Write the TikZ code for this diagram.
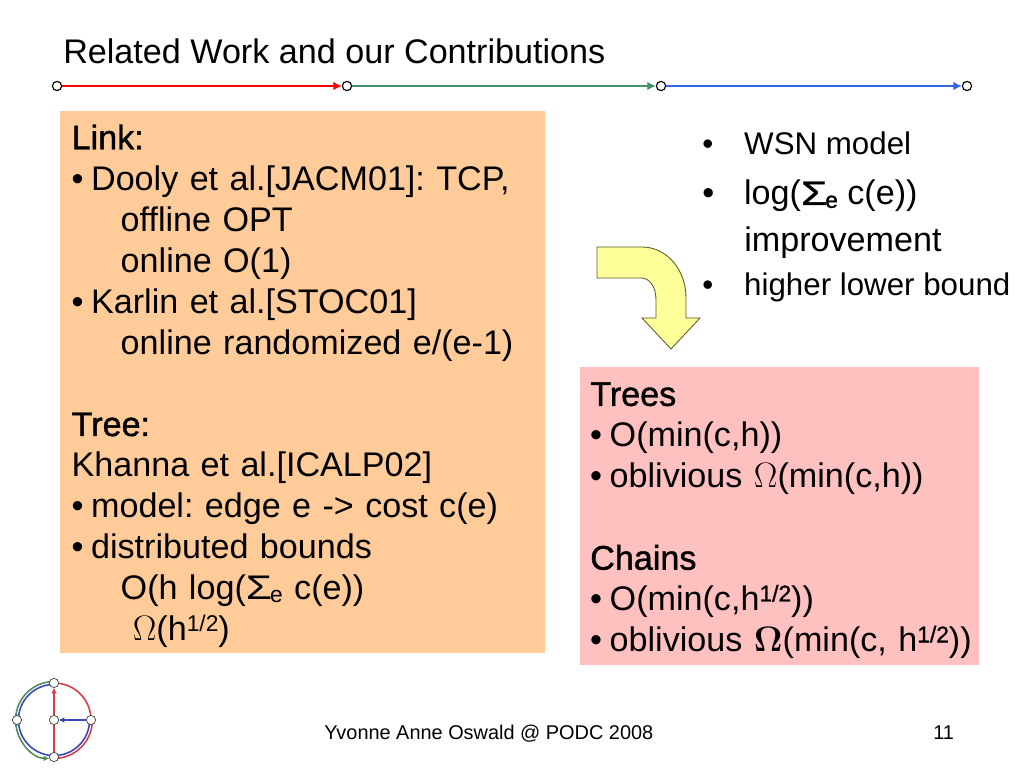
\documentclass[tikz,border=0pt]{standalone}
\usepackage{amsmath}
\usepackage{fontspec}
\setmainfont{Liberation Sans}
\usetikzlibrary{arrows.meta,backgrounds}

\newcommand{\headline}[1]{{\addfontfeature{FakeBold=1.2}#1}}
\newcommand{\fsize}[1]{\fontsize{#1pt}{1.2\dimexpr #1pt\relax}\selectfont}
\newcommand{\indentone}{\hspace*{34.5pt}}
\newcommand{\indenttwo}{\hspace*{43pt}}
\newcommand{\itm}{•\hspace{5.3pt}}
\newcommand{\sumsign}{\scalebox{1.25}[1]{Σ}\hspace{-1.5pt}}
\newcommand{\halfpow}{\raisebox{6.5pt}{\fsize{16}1/2}}
\newcommand{\boldhalfpow}{\raisebox{6.5pt}{\fsize{16}\headline{1/2}}}

\tikzset{
    dot/.style={circle, draw=black, fill=white, line width=0.8pt, inner sep=0pt, minimum size=6.5pt},
    logodot/.style={circle, draw=black!75, fill=white, line width=0.5pt, inner sep=0pt, minimum size=6.5pt},
    textbox/.style={anchor=north west, align=left, inner sep=0pt, inner xsep=8pt, font=\fsize{24}\frenchspacing},
    plain/.style={anchor=base west, inner sep=0pt},
    link/.style={line width=0.9pt, -{Latex[length=6pt,width=6pt]}},
    logoline/.style={line width=1.1pt},
    logolink/.style={line width=1.1pt, shorten >=3.25pt, -{Latex[length=4pt,width=4pt]}},
}

\begin{document}
\begin{tikzpicture}[x=0.703125pt, y=-0.703125pt]
\useasboundingbox (0,0) rectangle (1024,768);

\node[plain, font=\fsize{24}] (title) at (63,64) {Related Work and our Contributions};

% time line
\node[dot] (t1) at (57,86) {};
\node[dot] (t2) at (347,86) {};
\node[dot] (t3) at (661,86) {};
\node[dot] (t4) at (967,86) {};
\draw[link, color={rgb,255:red,255;green,0;blue,0}] (t1) -- (t2);
\draw[link, color={rgb,255:red,64;green,145;blue,108}] (t2) -- (t3);
\draw[link, color={rgb,255:red,51;green,102;blue,230}] (t3) -- (t4);

\node[textbox, fill={rgb,255:red,255;green,204;blue,153}, minimum width=341pt, minimum height=381pt,
      text width=325pt] (related) at (60,111)
{\rule{0pt}{23pt}\headline{Link:}\\
 \itm Dooly et al.[JACM01]: TCP,\\
 \indentone offline OPT\\
 \indentone online O(1)\\
 \itm Karlin et al.[STOC01]\\
 \indentone online randomized e/(e-1)\\
 \mbox{}\\
 \headline{Tree:}\\
 Khanna et al.[ICALP02]\\
 \itm model: edge e -> cost c(e)\\
 \itm distributed bounds\\
 \indentone O(h log(\sumsign\raisebox{-2pt}{\fsize{16}e} c(e))\\
 \indenttwo $\Omega$(h\halfpow)};

\node[textbox, inner xsep=7pt, fill={rgb,255:red,255;green,192;blue,192}, minimum width=280pt, minimum height=209pt,
      text width=266pt] (results) at (580,367)
{\rule{0pt}{23pt}\headline{Trees}\\
 \itm O(min(c,h))\\
 \itm oblivious $\Omega$(min(c,h))\\
 \mbox{}\\
 \headline{Chains}\\
 \itm O(min(c,h\boldhalfpow))\\
 \mbox{\itm oblivious $\boldsymbol{\Omega}$(min(c, h\boldhalfpow))}};

\node[plain, font=\fsize{22}] (item1) at (702,155) {•\hspace{21.8pt}WSN model};
\node[plain, font=\fsize{24}] (item2) at (702,205) {•\hspace{21pt}log(\headline{\sumsign}\raisebox{-2pt}{\fsize{16}\headline{e}} c(e))};
\node[plain, font=\fsize{24}] (item2b) at (744,252) {improvement};
\node[plain, font=\fsize{22}] (item3) at (702,296) {•\hspace{21.8pt}higher lower bound};

% bent arrow
\draw[draw={rgb,255:red,90;green,90;blue,40}, fill={rgb,255:red,255;green,255;blue,153}, line width=0.6pt]
    (597,247) -- (642,247) .. controls (667,247) and (686,270) .. (686,298)
    -- (686,318) -- (700,318) -- (671,349) -- (642,318) -- (656,318) -- (656,300)
    .. controls (656,287) and (650,278) .. (641,278) -- (597,278) -- cycle;

\node[plain, font=\fsize{14}] (footer) at (324,739) {Yvonne Anne Oswald @ PODC 2008};
\node[plain, font=\fsize{14}] (page) at (933,739) {11};

% logo
\definecolor{logored}{RGB}{214,60,70}
\definecolor{logogreen}{RGB}{80,140,90}
\definecolor{logoblue}{RGB}{60,70,190}
\node[logodot] (ltop) at (54,683) {};
\node[logodot] (lbottom) at (54,757) {};
\node[logodot] (lleft) at (17,720) {};
\node[logodot] (lright) at (91,720) {};
\node[logodot] (lmid) at (54,720) {};
\begin{scope}[on background layer]
\draw[logoline, logoblue] ([yshift=-1pt]ltop.center) to [out=180,in=90] ([xshift=1pt]lleft.center);
\draw[logoline, logoblue] ([xshift=1pt]lleft.center) to [out=-90,in=180] ([yshift=1pt]lbottom.center);
\draw[logoline, logoblue] ([xshift=-1pt]lright.center) to [out=-90,in=0] ([yshift=1pt]lbottom.center);
\draw[logoline, logored] (ltop.center) to [out=0,in=90] (lright.center);
\draw[logoline, logored] ([xshift=1pt]lright.center) to [out=-90,in=0] ([yshift=-1pt]lbottom.center);
\draw[logoline, logogreen] ([yshift=1pt]ltop.center) to [out=180,in=90] ([xshift=-1pt]lleft.center);
\draw[logolink, logogreen] ([xshift=-1pt]lleft.center) to [out=-90,in=180] ([yshift=-1pt]lbottom.center);
\draw[logoline, logored] (lbottom.center) -- (lmid.center);
\draw[logolink, logored] (lmid.center) -- (ltop.center);
\draw[logolink, logoblue] (lright.center) -- (lmid.center);
\end{scope}

\end{tikzpicture}
\end{document}
